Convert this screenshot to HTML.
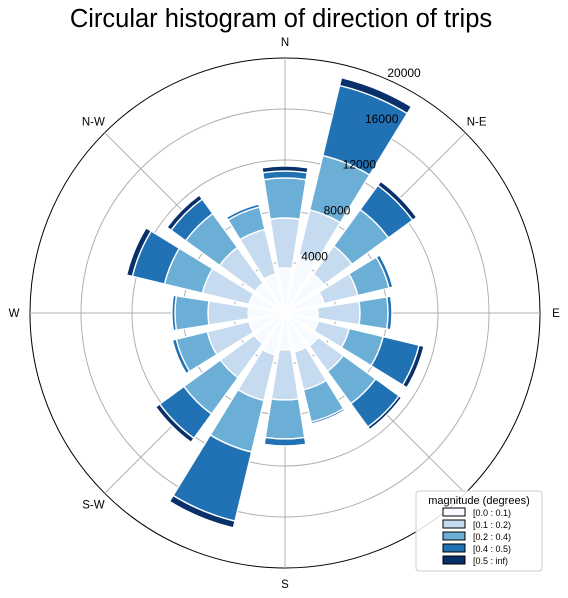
<!DOCTYPE html>
<html><head><meta charset="utf-8"><style>
body{margin:0;background:#fff;width:568px;height:598px;overflow:hidden}
svg{display:block;font-family:"Liberation Sans","DejaVu Sans",sans-serif}
</style></head><body>
<svg id="chart" width="568" height="598" viewBox="0 0 568 598">
<text x="281" y="27" text-anchor="middle" font-size="25.5" fill="#000">Circular histogram of direction of trips</text>
<g id="grid"></g>
<g id="bars"></g>
<g id="labels"></g>
<g>
<rect x="416" y="491" width="126" height="80" rx="3" fill="#fff" fill-opacity="0.85" stroke="#ccc"/>
<text x="479" y="504" text-anchor="middle" font-size="11">magnitude (degrees)</text>
<g id="legend-entries"></g>
</g>
</svg>
<script>
const directions = ["N","NNE","NE","ENE","E","ESE","SE","SSE","S","SSW","SW","WSW","W","WNW","NW","NNW"];
const bin0 = [3530,4700,3760,3140,2590,2670,3220,3140,2900,3370,2980,2900,2900,2900,2900,3140];
const bin1 = [3920,3610,2740,2740,3290,2510,2430,3060,3920,3690,3290,3370,3140,3760,3450,3610];
const bin2 = [3140,4390,3530,2510,2200,2740,3140,2590,3060,4160,3530,2510,2590,3060,3290,1800];
const bin3 = [550,5650,2350,310,310,2900,2270,160,550,5570,2350,310,240,2590,1410,240];
const bin4 = [390,630,390,0,0,390,240,0,0,550,390,0,0,470,390,0];
const binLabels = ["[0.0 : 0.1)","[0.1 : 0.2)","[0.2 : 0.4)","[0.4 : 0.5)","[0.5 : inf)"];
const radialTicks = [4000,8000,12000,16000,20000];
const compassLabels = ["N","N-E","E","","S","S-W","W","N-W"];

const NS="http://www.w3.org/2000/svg";
const cx=285, cy=313, R=255, rmax=20000;
const colors=["#f7fbff","#c6dbef","#6baed6","#2171b5","#08306b"];
const bins=[bin0,bin1,bin2,bin3,bin4];
function rScale(v){return v/rmax*R;}
function pt(r,deg){const a=deg*Math.PI/180;return [cx+r*Math.sin(a), cy-r*Math.cos(a)];}
function mk(tag,attrs,parent){const e=document.createElementNS(NS,tag);for(const k in attrs)e.setAttribute(k,attrs[k]);parent.appendChild(e);return e;}

const grid=document.getElementById('grid');
radialTicks.forEach((t,i)=>{
  const c=mk('circle',{cx:cx,cy:cy,r:rScale(t),fill:'none',stroke:i===radialTicks.length-1?'#000':'#b0b0b0','stroke-width':1},grid);
  
  
});
for(let k=0;k<8;k++){
  const p=pt(R,k*45);
  const l=mk('line',{x1:cx,y1:cy,x2:p[0],y2:p[1],stroke:'#b0b0b0','stroke-width':1},grid);
  
  
}

const bars=document.getElementById('bars');
const half=9;
directions.forEach((d,i)=>{
  const ang=i*22.5;
  let base=0;
  bins.forEach((arr,b)=>{
    const v=arr[i]; if(v<=0) return;
    const r0=rScale(base), r1=rScale(base+v);
    const a0=ang-half, a1=ang+half;
    const p1=pt(r0,a0),p2=pt(r1,a0),p3=pt(r1,a1),p4=pt(r0,a1);
    const dpath=`M${p1[0]},${p1[1]} L${p2[0]},${p2[1]} A${r1},${r1} 0 0 1 ${p3[0]},${p3[1]} L${p4[0]},${p4[1]} A${r0},${r0} 0 0 0 ${p1[0]},${p1[1]} Z`;
    const s=mk('path',{d:dpath,fill:colors[b],stroke:'#fff','stroke-width':1.4},bars);
    
    
    base+=v;
  });
});

const labels=document.getElementById('labels');
compassLabels.forEach((t,k)=>{
  if(!t) return;
  const p=pt(R+16,k*45);
  const e=mk('text',{x:p[0],y:p[1]+4,'text-anchor':'middle','font-size':11.5},labels);
  e.textContent=t;
  
  
});
radialTicks.forEach(t=>{
  const p=pt(rScale(t)+12,26);
  const e=mk('text',{x:p[0]+2,y:p[1]+4,'text-anchor':'middle','font-size':12},labels);
  e.textContent=String(t);
  
  
});

const leg=document.getElementById('legend-entries');
binLabels.forEach((t,i)=>{
  const y=508+i*12;
  const r=mk('rect',{x:443,y:y,width:22,height:8,fill:colors[i],stroke:'#000','stroke-width':1},leg);
  
  
  const e=mk('text',{x:473,y:y+8,'font-size':9},leg);
  e.textContent=t;
  
  
});
</script>
</body></html>
